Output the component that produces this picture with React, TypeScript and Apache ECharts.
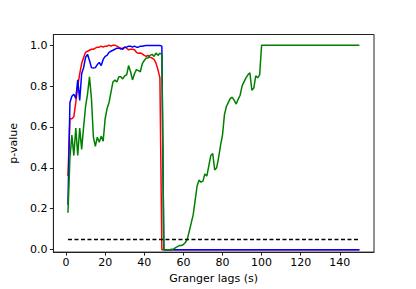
import React, { useEffect, useRef } from "react";
import * as echarts from "echarts";

const lags: number[] = Array.from({ length: 150 }, (_, i) => i + 1);

const redHead: number[] = [
  0.36, 0.64, 0.64, 0.65, 0.72, 0.8, 0.86, 0.91, 0.94, 0.965,
  0.97, 0.975, 0.98, 0.98, 0.985, 0.99, 0.99, 0.995, 0.99, 0.995,
  0.995, 1.0, 0.995, 1.0, 1.0, 0.995, 0.99, 0.98, 0.985, 0.99,
  0.985, 0.977, 0.98, 0.98, 0.977, 0.965, 0.96, 0.962, 0.957, 0.95,
  0.945, 0.95, 0.94, 0.937, 0.93, 0.912, 0.88, 0.84, 0.0,
];

const blueHead: number[] = [
  0.22, 0.72, 0.75, 0.76, 0.74, 0.83, 0.73, 0.86, 0.89, 0.94,
  0.955, 0.925, 0.89, 0.888, 0.89, 0.905, 0.915, 0.9, 0.93, 0.945,
  0.95, 0.965, 0.97, 0.975, 0.98, 0.985, 0.985, 0.985, 0.98, 0.99,
  0.99, 0.995, 0.995, 0.99, 0.995, 0.99, 0.99, 0.995, 0.995, 0.997,
  0.998, 0.998, 0.998, 0.998, 0.998, 0.998, 0.998, 0.998, 0.995,
];

const greenHead: number[] = [
  0.18, 0.45, 0.56, 0.46, 0.595, 0.46, 0.595, 0.49, 0.6, 0.7,
  0.76, 0.845, 0.74, 0.55, 0.505, 0.55, 0.525, 0.555, 0.53, 0.64,
  0.69, 0.72, 0.77, 0.82, 0.83, 0.82, 0.845, 0.845, 0.835, 0.85,
  0.855, 0.9, 0.87, 0.83, 0.86, 0.88, 0.875, 0.87, 0.91, 0.925,
  0.937, 0.937, 0.95, 0.955, 0.945, 0.961, 0.95, 0.96, 0.955, 0.0,
  0.0, 0.0, 0.0, 0.002, 0.003, 0.01, 0.015, 0.02, 0.02, 0.025,
  0.035, 0.05, 0.09, 0.13, 0.17, 0.24, 0.31, 0.34, 0.33, 0.335,
  0.37, 0.36, 0.41, 0.46, 0.47, 0.39, 0.4, 0.45, 0.51, 0.56,
  0.66, 0.7, 0.72, 0.74, 0.745, 0.73, 0.712, 0.735, 0.755, 0.8,
  0.82, 0.84, 0.855, 0.865, 0.78, 0.79, 0.85, 0.84, 0.855, 1.0,
];

// after the listed values, red and blue stay at 0 and green stays at 1
const redTail = 0.0;
const blueTail = 0.0;
const greenTail = 1.0;

const threshold = 0.05;
const thresholdRange: number[] = [1, 150];

const xTicks: number[] = [0, 20, 40, 60, 80, 100, 120, 140];
const yTicks: number[] = [0, 0.2, 0.4, 0.6, 0.8, 1.0];

const build = (head: number[], tail: number) =>
  lags.map((l, i) => [l, i < head.length ? head[i] : tail]);

export default function App() {
  const ref = useRef<HTMLDivElement>(null);
  useEffect(() => {
    if (!ref.current) return;
    const chart = echarts.init(ref.current, undefined, { renderer: "svg" });
    const font = "DejaVu Sans";
    const axisCommon = {
      type: "value" as const,
      splitLine: { show: false },
      axisLine: { show: true, onZero: false, lineStyle: { color: "#222", width: 1 } },
      axisTick: { show: true, length: 3.5, lineStyle: { color: "#222", width: 1 } },
      nameLocation: "middle" as const,
      nameTextStyle: { color: "#000", fontSize: 11, fontFamily: font },
    };
    chart.setOption({
      animation: false,
      backgroundColor: "#fff",
      grid: {
        left: 51.5,
        top: 34.5,
        width: 322.5,
        height: 218,
        show: true,
        borderColor: "#222",
        borderWidth: 1,
        containLabel: false,
      },
      xAxis: {
        ...axisCommon,
        min: -6.45,
        max: 157.45,
        name: "Granger lags (s)",
        nameGap: 18,
        axisTick: { ...axisCommon.axisTick, customValues: xTicks },
        axisLabel: {
          customValues: xTicks,
          color: "#000",
          fontSize: 11,
          fontFamily: font,
          margin: 5,
        },
      },
      yAxis: {
        ...axisCommon,
        min: -0.012,
        max: 1.052,
        name: "p-value",
        nameGap: 21,
        axisTick: { ...axisCommon.axisTick, customValues: yTicks },
        axisLabel: {
          customValues: yTicks,
          color: "#000",
          fontSize: 11,
          fontFamily: font,
          margin: 6,
          formatter: (v: number) => v.toFixed(1),
        },
      },
      series: [
        {
          type: "line",
          data: build(redHead, redTail),
          showSymbol: false,
          lineStyle: { color: "#ff0000", width: 1.5 },
          itemStyle: { color: "#ff0000" },
        },
        {
          type: "line",
          data: build(blueHead, blueTail),
          showSymbol: false,
          lineStyle: { color: "#0000ff", width: 1.5 },
          itemStyle: { color: "#0000ff" },
        },
        {
          type: "line",
          data: build(greenHead, greenTail),
          showSymbol: false,
          lineStyle: { color: "#008000", width: 1.5 },
          itemStyle: { color: "#008000" },
        },
        {
          type: "line",
          data: thresholdRange.map((x) => [x, threshold]),
          showSymbol: false,
          lineStyle: { color: "#000", width: 1.5, type: [4, 2.5] },
          itemStyle: { color: "#000" },
        },
      ],
    });
    return () => chart.dispose();
  }, []);
  return (
    <div
      ref={ref}
      style={{ position: "fixed", left: 0, top: 0, width: 416, height: 289 }}
    />
  );
}
